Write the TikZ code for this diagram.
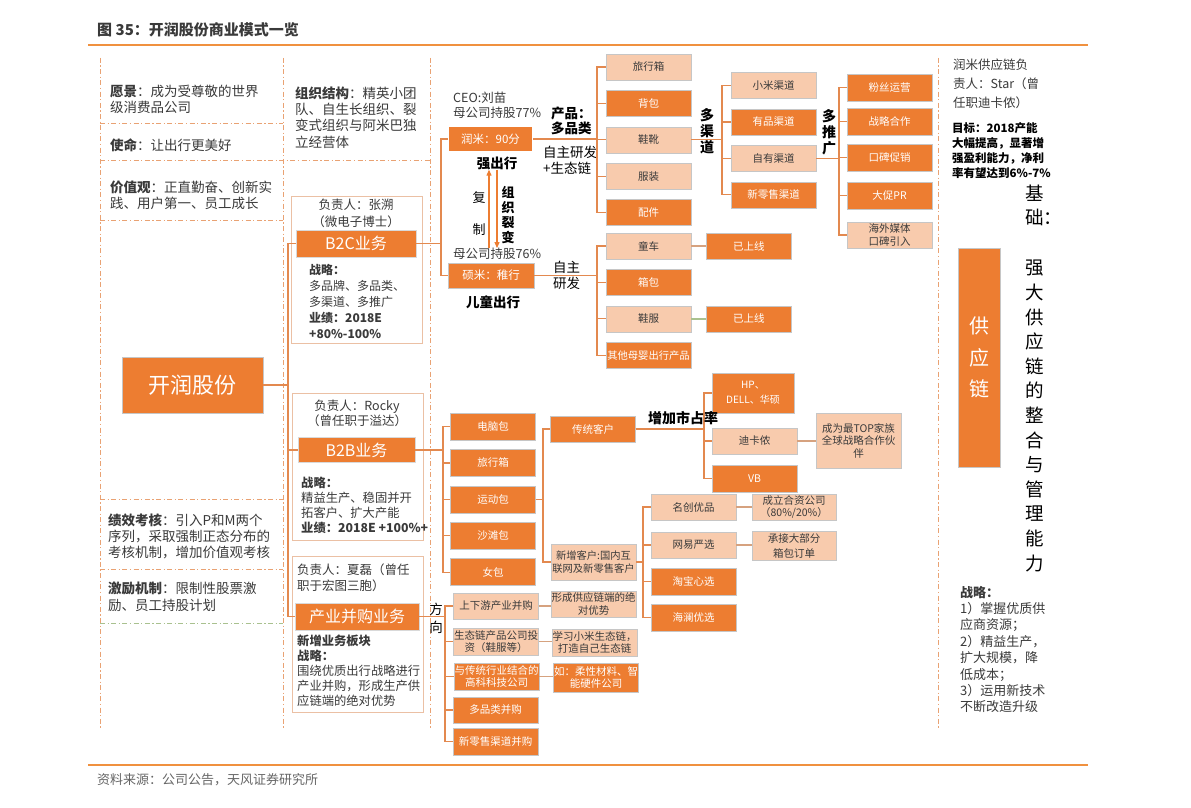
\documentclass[tikz,border=0pt]{standalone}
\usepackage{fontspec}
\setmainfont{Noto Sans CJK SC}
\usepackage{xcolor}
\usetikzlibrary{arrows.meta, positioning}

\definecolor{orD}{HTML}{ED7D31}
\definecolor{orL}{HTML}{F8CBAD}
\definecolor{lnC}{HTML}{E3894F}
\definecolor{lkC}{HTML}{D6A27F}
\definecolor{gnC}{HTML}{A9C18F}
\definecolor{sepC}{HTML}{E9A273}
\definecolor{frC}{HTML}{EBC0A4}
\definecolor{txC}{HTML}{3A3A3A}
\definecolor{rlC}{HTML}{F0913F}

\newcommand{\fsz}[2]{\fontsize{#1}{#2}\selectfont}

\tikzset{
  dk/.style={draw=gray!45, fill=orD, text=white, minimum width=85, minimum height=26,
    inner sep=0pt, align=center, font=\fsz{10.5}{12.5}},
  lt/.style={dk, fill=orL, text=txC},
  biz/.style={draw=gray!30, fill=orD, text=white, inner sep=0pt, font=\fsz{16}{18}},
  grp/.style={draw=frC, line width=0.6pt, inner sep=0pt},
  note/.style={anchor=west, align=left, inner sep=0pt, text=txC},
  lbl/.style={inner sep=0pt, align=center, text=black},
  tree/.style={draw=lnC, line width=1.2pt},
  link/.style={draw=lkC, line width=1.6pt},
  sepline/.style={draw=sepC, line width=0.8pt, dash pattern=on 5pt off 2.5pt on 1.2pt off 2.5pt},
  flow/.style={draw=orD, line width=1.2pt, -{Triangle[length=6pt,width=5pt]}}
}

\begin{document}
\begin{tikzpicture}[x=1pt, y=-1pt, node distance=10pt]
  \fill[white] (0,0) rectangle (1191,808);
  \useasboundingbox (0,0) rectangle (1191,808);

  % === Title and source ===
  \node[note, font=\fsz{15}{18}\bfseries] (title) at (97,30) {图 35：开润股份商业模式一览};
  \draw[draw=rlC, line width=1.2pt] (88,45) -- (1088,45);
  \draw[draw=rlC, line width=1.2pt] (88,765) -- (1088,765);
  \node[note, font=\fsz{13}{15}, text=gray!80!black] (src) at (97,780) {资料来源：公司公告，天风证券研究所};

  % === Column separators ===
  \draw[sepline] (100,58) -- (100,728);
  \draw[sepline] (283,58) -- (283,728);
  \draw[sepline] (430,58) -- (430,728);
  \draw[sepline] (938,58) -- (938,728);
  \draw[sepline] (100,123) -- (283,123);
  \draw[sepline] (100,160) -- (430,160);
  \draw[sepline] (100,220) -- (283,220);
  \draw[sepline] (100,499) -- (283,499);
  \draw[sepline] (100,569) -- (283,569);
  \draw[sepline, draw=gnC] (100,623) -- (283,623);

  % === Left column ===
  \node[note, font=\fsz{13.5}{16}] (vision) at (110,99.5) {\textbf{愿景}：成为受尊敬的世界\\级消费品公司};
  \node[note, font=\fsz{13.5}{16}] (mission) at (110,145) {\textbf{使命}：让出行更美好};
  \node[note, font=\fsz{13.5}{16}] (values) at (110,195) {\textbf{价值观}：正直勤奋、创新实\\践、用户第一、员工成长};
  \node[note, font=\fsz{13.5}{16}] (perf) at (108,536) {\textbf{绩效考核}：引入P和M两个\\序列，采取强制正态分布的\\考核机制，增加价值观考核};
  \node[note, font=\fsz{13.5}{17}] (incent) at (108,596.5) {\textbf{激励机制}：限制性股票激\\励、员工持股计划};
  \node[dk, minimum width=141, minimum height=56, font=\fsz{22}{24}] (kr) at (192.5,385) {开润股份};

  % === Business units ===
  \node[note, font=\fsz{13.5}{16.3}] (org) at (295,117.5) {\textbf{组织结构}：精英小团\\队、自生长组织、裂\\变式组织与阿米巴独\\立经营体};

  \node[grp, minimum width=131, minimum height=147] (b2cF) at (356.5,269.5) {};
  \node[lbl, font=\fsz{12.5}{17}, text=txC] (b2cHd) at (356,213.5) {负责人：张溯\\（微电子博士）};
  \node[biz, minimum width=120, minimum height=27] (b2c) at (356,243.5) {B2C业务};
  \node[note, font=\fsz{12}{15.8}] (b2cSt) at (309,301.5) {\textbf{战略：}\\多品牌、多品类、\\多渠道、多推广\\\textbf{业绩：2018E}\\\textbf{+80\%-100\%}};

  \node[grp, minimum width=131, minimum height=147] (b2bF) at (357.5,466.5) {};
  \node[lbl, font=\fsz{12.5}{15}, text=txC] (b2bHd) at (357,413.5) {负责人：Rocky\\（曾任职于溢达）};
  \node[biz, minimum width=117, minimum height=25] (b2b) at (356.5,450) {B2B业务};
  \node[note, font=\fsz{12.3}{15}] (b2bSt) at (301,505.5) {\textbf{战略：}\\精益生产、稳固并开\\拓客户、扩大产能\\\textbf{业绩：2018E +100\%+}};

  \node[grp, minimum width=131, minimum height=156] (mnaF) at (357.5,634) {};
  \node[note, font=\fsz{12.5}{16}] (mnaHd) at (297,578) {负责人：夏磊（曾任\\职于宏图三胞）};
  \node[biz, minimum width=124, minimum height=27] (mna) at (357,616.5) {产业并购业务};
  \node[note, font=\fsz{12.3}{15}] (mnaSt) at (297,671) {\textbf{新增业务板块}\\\textbf{战略：}\\围绕优质出行战略进行\\产业并购，形成生产供\\应链端的绝对优势};

  % === Runmi / Shuomi ===
  \node[note, font=\fsz{12.5}{15}] (ceo) at (453,105.5) {CEO:刘苗\\母公司持股77\%};
  \node[dk, draw=gray!40, double=white, double distance=2pt, font=\fsz{11.5}{13}] (rm) at (490.5,139) {润米：90分};
  \node[lbl, font=\fsz{13.5}{16}\bfseries] (qcx) at (497,163) {强出行};
  \node[lbl, font=\fsz{13}{16}] (fu) at (479,198) {复};
  \node[lbl, font=\fsz{13}{16}] (zhi) at (479,230) {制};
  \node[lbl, font=\fsz{13}{15.3}\bfseries] (zzlb) at (508,215) {组\\织\\裂\\变};
  \node[note, font=\fsz{12.5}{15}] (smshare) at (453,254) {母公司持股76\%};
  \node[dk, minimum width=86, minimum height=25, font=\fsz{11.5}{13}] (sm) at (491,275.5) {硕米：稚行};
  \node[lbl, font=\fsz{13.5}{16}\bfseries] (etcx) at (493,302) {儿童出行};

  \coordinate (cpX) at (489,0);
  \coordinate (lbX) at (497,0);
  \draw[flow] (smshare.north -| cpX) -- (qcx.south -| cpX);
  \draw[flow] (qcx.south -| lbX) -- (smshare.north -| lbX);

  % product lines
  \node[note, font=\fsz{13.5}{15}\bfseries, text=black] (cplb) at (551,120.5) {产品：\\多品类};
  \node[note, font=\fsz{13.5}{16}, text=black] (zylb) at (543,160) {自主研发\\+生态链};
  \node[note, font=\fsz{13.5}{16}, text=black] (zylb2) at (553,275) {自主\\研发};

  \node[lt] (pr1) at (648.5,67) {旅行箱};
  \node[dk, below=of pr1] (pr2) {背包};
  \node[lt, below=of pr2] (pr3) {鞋靴};
  \node[lt, below=of pr3] (pr4) {服装};
  \node[dk, below=of pr4] (pr5) {配件};

  \node[lt] (kp1) at (648.5,246) {童车};
  \node[dk, below=of kp1] (kp2) {箱包};
  \node[lt, below=of kp2] (kp3) {鞋服};
  \node[dk, below=of kp3, font=\fsz{10.3}{12}] (kp4) {其他母婴出行产品};
  \node[dk, right=15pt of kp1] (ol1) {已上线};
  \node[dk, right=15pt of kp3] (ol2) {已上线};

  % channels and promotion
  \node[lt] (ch1) at (773.5,85.5) {小米渠道};
  \node[dk, below=of ch1] (ch2) {有品渠道};
  \node[lt, below=of ch2] (ch3) {自有渠道};
  \node[dk, below=of ch3] (ch4) {新零售渠道};

  \node[dk, minimum height=27] (pm1) at (889.5,87.5) {粉丝运营};
  \node[dk, minimum height=27] (pm2) at (889.5,121.5) {战略合作};
  \node[dk, minimum height=27] (pm3) at (889.5,157.5) {口碑促销};
  \node[dk, minimum height=27] (pm4) at (889.5,195.5) {大促PR};
  \node[lt] (pm5) at (889.5,235) {海外媒体\\口碑引入};

  % === B2B ===
  \node[dk, minimum height=27] (bb1) at (493,426.5) {电脑包};
  \node[dk, minimum height=27, below=9pt of bb1] (bb2) {旅行箱};
  \node[dk, minimum height=27, below=9pt of bb2] (bb3) {运动包};
  \node[dk, minimum height=27, below=9pt of bb3] (bb4) {沙滩包};
  \node[dk, minimum height=27, below=9pt of bb4] (bb5) {女包};

  \node[dk] (ct1) at (593,429) {传统客户};
  \node[lt, minimum height=36, font=\fsz{10.3}{13}] (ct2) at (593.5,562) {新增客户:国内互\\联网及新零售客户};

  \node[dk, minimum width=82, minimum height=40, font=\fsz{10}{15}] (mk1) at (753,393) {HP、\\DELL、华硕};
  \node[lt] (mk2) at (754.5,441) {迪卡侬};
  \node[dk, minimum height=27] (mk3) at (754.5,478.5) {VB};
  \node[lt, minimum height=55] (ptn) at (858.5,440.5) {成为最TOP家族\\全球战略合作伙\\伴};

  \node[lt] (on1) at (693.5,507) {名创优品};
  \node[lt] (on2) at (693.5,545) {网易严选};
  \node[dk, minimum height=27] (on3) at (693.5,581.5) {淘宝心选};
  \node[dk, minimum height=27] (on4) at (693.5,617.5) {海澜优选};
  \node[lt, minimum width=84] (jv) at (794,507) {成立合资公司\\（80\%/20\%）};
  \node[lt, minimum width=84, minimum height=29, font=\fsz{10.5}{15}] (ord) at (794,545.5) {承接大部分\\箱包订单};

  % === M&A ===
  \node[lt] (ma1) at (496,606) {上下游产业并购};
  \node[lt, minimum height=27] (ma2) at (496,641.5) {生态链产品公司投\\资（鞋服等）};
  \node[dk, minimum height=27] (ma3) at (496.5,676.5) {与传统行业结合的\\高科科技公司};
  \node[dk] (ma4) at (495.5,710) {多品类并购};
  \node[dk, minimum height=27] (ma5) at (495.5,741.5) {新零售渠道并购};
  \node[lt] (mn1) at (593.5,604) {形成供应链端的绝\\对优势};
  \node[lt, minimum height=27] (mn2) at (594.5,642.5) {学习小米生态链，\\打造自己生态链};
  \node[dk, minimum height=29] (mn3) at (596,677.5) {如：柔性材料、智\\能硬件公司};

  % === Supply chain column ===
  \node[note, font=\fsz{12.5}{19}] (scm) at (953,84) {润米供应链负\\责人：Star（曾\\任职迪卡侬）};
  \node[note, font=\fsz{11.5}{15}\bfseries, text=black] (goal) at (952,150.5) {目标：2018产能\\大幅提高，显著增\\强盈利能力，净利\\率有望达到6\%-7\%};
  \node[note, font=\fsz{18.5}{24.6}, text=black] (jc) at (1025,205.5) {基\\础：};
  \node[note, font=\fsz{18.5}{24.6}, text=black] (nl) at (1025,416) {强\\大\\供\\应\\链\\的\\整\\合\\与\\管\\理\\能\\力};
  \node[dk, minimum width=42, minimum height=219, font=\fsz{20}{31.5}] (gyl) at (979,357.5) {供\\应\\链};
  \node[note, font=\fsz{13}{16.4}] (scst) at (960,649.5) {\textbf{战略：}\\1）掌握优质供\\应商资源；\\2）精益生产，\\扩大规模，降\\低成本；\\3）运用新技术\\不断改造升级};

  % === Trunks ===
  \coordinate (t0) at (288,0);
  \coordinate (t1) at (441,0);
  \coordinate (t2) at (597,0);
  \coordinate (t3) at (722,0);
  \coordinate (t4) at (839,0);
  \coordinate (t5) at (443,0);
  \coordinate (t6) at (543,0);
  \coordinate (t7) at (704,0);
  \coordinate (t8) at (643,0);
  \coordinate (t9) at (445,0);

  \foreach \c in {b2c,b2b,mna}
    \draw[tree] (kr.east) -| (t0 |- \c.west) -- (\c.west);
  \foreach \c in {rm,sm}
    \draw[tree] (b2c.east) -| (t1 |- \c.west) -- (\c.west);
  \foreach \i in {1,...,5}
    \draw[tree] (rm.east) -| (t2 |- pr\i.west) -- (pr\i.west);
  \foreach \i in {1,...,4}
    \draw[tree] (sm.east) -| (t2 |- kp\i.west) -- (kp\i.west);
  \foreach \i in {1,...,4}
    \draw[tree] (pr3.east) -| (t3 |- ch\i.west) -- (ch\i.west);
  \foreach \i in {1,...,5}
    \draw[tree] (ch3.east) -| (t4 |- pm\i.west) -- (pm\i.west);
  \foreach \i in {1,...,5}
    \draw[tree] (b2b.east) -| (t5 |- bb\i.west) -- (bb\i.west);
  \foreach \i in {1,2}
    \draw[tree] (bb3.east) -| (t6 |- ct\i.west) -- (ct\i.west);
  \foreach \i in {1,2,3}
    \draw[tree] (ct1.east) -| (t7 |- mk\i.west) -- (mk\i.west);
  \foreach \i in {1,...,4}
    \draw[tree] (ct2.east) -| (t8 |- on\i.west) -- (on\i.west);
  \foreach \i in {1,...,5}
    \draw[tree] (mna.east) -| (t9 |- ma\i.west) -- (ma\i.west);

  % side links
  \draw[link] (kp1) -- (ol1);
  \draw[link, draw=gnC] (kp3) -- (ol2);
  \draw[link] (mk2.east) -- (mk2.east -| ptn.west);
  \draw[link] (on1) -- (jv);
  \draw[link] (on2.east) -- (on2.east -| ord.west);
  \draw[link] (ma1.east) -- (ma1.east -| mn1.west);
  \draw[link] (ma2.east) -- (ma2.east -| mn2.west);
  \draw[link] (ma3.east) -- (ma3.east -| mn3.west);

  % labels sitting on the lines
  \node[lbl, font=\fsz{14}{16}\bfseries] (dqd) at (707,131) {多\\渠\\道};
  \node[lbl, font=\fsz{14}{16}\bfseries] (dtg) at (829,132) {多\\推\\广};
  \node[lbl, font=\fsz{14}{16}\bfseries] (zjsc) at (683,418) {增加市占率};
  \node[lbl, font=\fsz{13.5}{18}] (fx) at (436,618) {方\\向};
\end{tikzpicture}
\end{document}
